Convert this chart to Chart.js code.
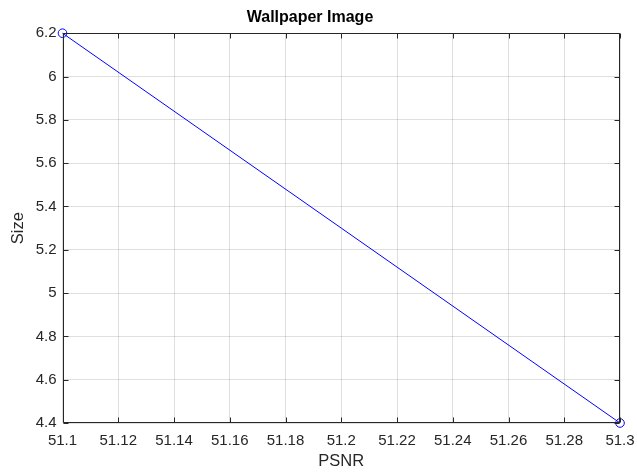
<!DOCTYPE html>
<html>
<head>
<meta charset="utf-8">
<script src="https://cdn.jsdelivr.net/npm/chart.js@4/dist/chart.umd.min.js"></script>
<style>
  html, body { margin: 0; padding: 0; background: #ffffff; }
  #wrap { width: 637px; height: 475px; }
</style>
</head>
<body>
<div id="wrap"><canvas id="c" width="637" height="475"></canvas></div>
<script>
// PSNR vs. file size for the wallpaper image
const psnr = [51.1, 51.3];
const size = [6.2, 4.4];

const xTicks = [51.1, 51.12, 51.14, 51.16, 51.18, 51.2, 51.22, 51.24, 51.26, 51.28, 51.3];
const xTickLabels = ['51.1', '51.12', '51.14', '51.16', '51.18', '51.2', '51.22', '51.24', '51.26', '51.28', '51.3'];
const yTicks = [4.4, 4.6, 4.8, 5, 5.2, 5.4, 5.6, 5.8, 6, 6.2];
const yTickLabels = ['4.4', '4.6', '4.8', '5', '5.2', '5.4', '5.6', '5.8', '6', '6.2'];

const axisColor = '#262626';
const gridColor = 'rgba(38,38,38,0.15)';
const font = 'Liberation Sans, Arial, Helvetica, sans-serif';

// Box around the plot area with inward tick marks on all four sides
const boxTicks = {
  id: 'boxTicks',
  afterDatasetsDraw(chart) {
    const { ctx, chartArea: a, scales } = chart;
    const len = 5;
    ctx.save();
    ctx.strokeStyle = axisColor;
    ctx.lineWidth = 1;
    ctx.beginPath();
    const L = Math.round(a.left) + 0.5, R = Math.round(a.right) - 0.5;
    const T = Math.round(a.top) + 0.5, B = Math.round(a.bottom) - 0.5;
    ctx.rect(L, T, R - L, B - T);
    scales.x.ticks.forEach(t => {
      const px = Math.round(scales.x.getPixelForValue(t.value)) + 0.5;
      ctx.moveTo(px, B); ctx.lineTo(px, B - len);
      ctx.moveTo(px, T); ctx.lineTo(px, T + len);
    });
    scales.y.ticks.forEach(t => {
      const py = Math.round(scales.y.getPixelForValue(t.value)) + 0.5;
      ctx.moveTo(L, py); ctx.lineTo(L + len, py);
      ctx.moveTo(R, py); ctx.lineTo(R - len, py);
    });
    ctx.stroke();
    ctx.restore();
  }
};

new Chart(document.getElementById('c'), {
  type: 'scatter',
  data: {
    datasets: [{
      data: psnr.map((x, i) => ({ x: x, y: size[i] })),
      showLine: true,
      borderColor: '#0000ff',
      borderWidth: 1,
      pointStyle: 'circle',
      pointRadius: 4.3,
      pointBorderWidth: 1,
      pointBorderColor: '#0000ff',
      pointBackgroundColor: 'rgba(0,0,0,0)',
      clip: false
    }]
  },
  options: {
    responsive: false,
    animation: false,
    devicePixelRatio: 1,
    layout: { padding: { left: 0, right: 17, top: 0, bottom: 4 } },
    plugins: {
      legend: { display: false },
      tooltip: { enabled: false },
      title: {
        display: true,
        text: 'Wallpaper Image',
        color: '#000000',
        font: { family: font, size: 16, weight: 'bold' },
        padding: { top: 8, bottom: 6 }
      }
    },
    scales: {
      x: {
        type: 'linear',
        min: 51.1,
        max: 51.3,
        afterBuildTicks(scale) { scale.ticks = xTicks.map(v => ({ value: v })); },
        afterFit(scale) {
          scale.height = 48;
          scale.paddingLeft = 0;
          scale.paddingRight = 0;
        },
        ticks: {
          color: axisColor,
          font: { family: font, size: 15 },
          padding: 9,
          maxRotation: 0,
          autoSkip: false,
          callback: (v, i) => xTickLabels[i]
        },
        grid: { color: gridColor, drawTicks: false },
        border: { display: false },
        title: {
          display: true,
          text: 'PSNR',
          color: axisColor,
          font: { family: font, size: 16.5 },
          padding: 0
        }
      },
      y: {
        type: 'linear',
        min: 4.4,
        max: 6.2,
        afterBuildTicks(scale) { scale.ticks = yTicks.map(v => ({ value: v })); },
        afterFit(scale) { scale.width = 62.5; },
        ticks: {
          color: axisColor,
          font: { family: font, size: 15 },
          padding: 6,
          autoSkip: false,
          callback: (v, i) => yTickLabels[i]
        },
        grid: { color: gridColor, drawTicks: false },
        border: { display: false },
        title: {
          display: true,
          text: 'Size',
          color: axisColor,
          font: { family: font, size: 16.5 },
          padding: { top: 9, bottom: 0 }
        }
      }
    }
  },
  plugins: [boxTicks]
});
</script>
</body>
</html>
